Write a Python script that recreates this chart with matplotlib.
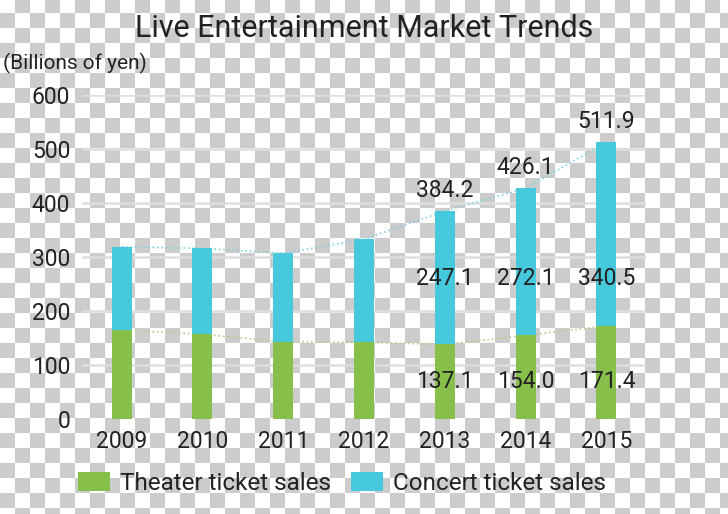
import numpy as np
import matplotlib
matplotlib.use("Agg")
import matplotlib.pyplot as plt

plt.rcParams['font.family'] = ['Roboto', 'DejaVu Sans']

# data (billions of yen)
years = ['2009', '2010', '2011', '2012', '2013', '2014', '2015']
theater = [164, 156, 142, 141, 137.1, 154.0, 171.4]
concert = [154, 159, 164, 191, 247.1, 272.1, 340.5]
labeled_years = ['2013', '2014', '2015']
theater_labels = ['137.1', '154.0', '171.4']
concert_labels = ['247.1', '272.1', '340.5']
total_labels = ['384.2', '426.1', '511.9']

green = '#86c04a'
cyan = '#47c9dd'

W, H = 728, 514
fig = plt.figure(figsize=(W / 100, H / 100), dpi=100)

# checkerboard background (transparent png look)
bg = fig.add_axes([0, 0, 1, 1], zorder=-10)
yy, xx = np.indices((H, W))
cells = ((xx // 15) + ((yy + 2) // 15)) % 2
bg.imshow(cells, cmap=matplotlib.colors.ListedColormap(['#ffffff', '#cccccc']),
          interpolation='nearest', aspect='auto', extent=(0, W, H, 0))
bg.set_axis_off()

ax = fig.add_axes([82 / W, (H - 418.5) / H, 564 / W, 324 / H])
ax.set_facecolor('none')

x = np.arange(len(years))
totals = [t + c for t, c in zip(theater, concert)]

for yv in range(100, 700, 100):
    ax.axhline(yv, color='#dedede', lw=1.8, zorder=0)

ax.plot(x, totals, ls=':', color='#7fd3df', lw=1.2, zorder=1)
ax.plot(x, theater, ls=':', color='#b3cc88', lw=1.2, zorder=1)

ax.bar(x, theater, width=0.247, color=green, zorder=2, label='Theater ticket sales')
ax.bar(x, concert, width=0.247, bottom=theater, color=cyan, zorder=2, label='Concert ticket sales')

for yr, tl, cl, tot in zip(labeled_years, theater_labels, concert_labels, total_labels):
    i = years.index(yr)
    ax.text(i, 68, tl, ha='center', va='center', fontsize=16.5, color='#222222', zorder=3)
    ax.text(i, 260, cl, ha='center', va='center', fontsize=16.5, color='#222222', zorder=3)
    ax.annotate(tot, (i, totals[i]), xytext=(0, 15), textcoords='offset points',
                ha='center', va='center', fontsize=16.5, color='#222222', zorder=3)

ax.set_xlim(-0.49, 6.49)
ax.set_ylim(0, 600)
ax.set_xticks(x)
ax.set_xticklabels(years)
ax.set_yticks(range(0, 700, 100))
ax.tick_params(length=0, labelsize=16.5, colors='#222222')
ax.tick_params(axis='y', pad=8.5)
ax.tick_params(axis='x', pad=8)
for s in ax.spines.values():
    s.set_visible(False)

fig.text(0.5, (H - 37) / H, 'Live Entertainment Market Trends', ha='center', va='baseline',
         fontsize=22, color='#222222')
fig.text(3 / W, (H - 69) / H, '(Billions of yen)', ha='left', va='baseline',
         fontsize=15, color='#222222')

fig.legend(loc='center', bbox_to_anchor=(342 / W, (H - 483) / H), ncol=2, frameon=False,
           fontsize=17.5, handlelength=1.3, handleheight=0.82, handletextpad=0.41,
           columnspacing=0.82, borderpad=0, labelcolor='#222222')

fig.savefig('out.png', dpi=100)
